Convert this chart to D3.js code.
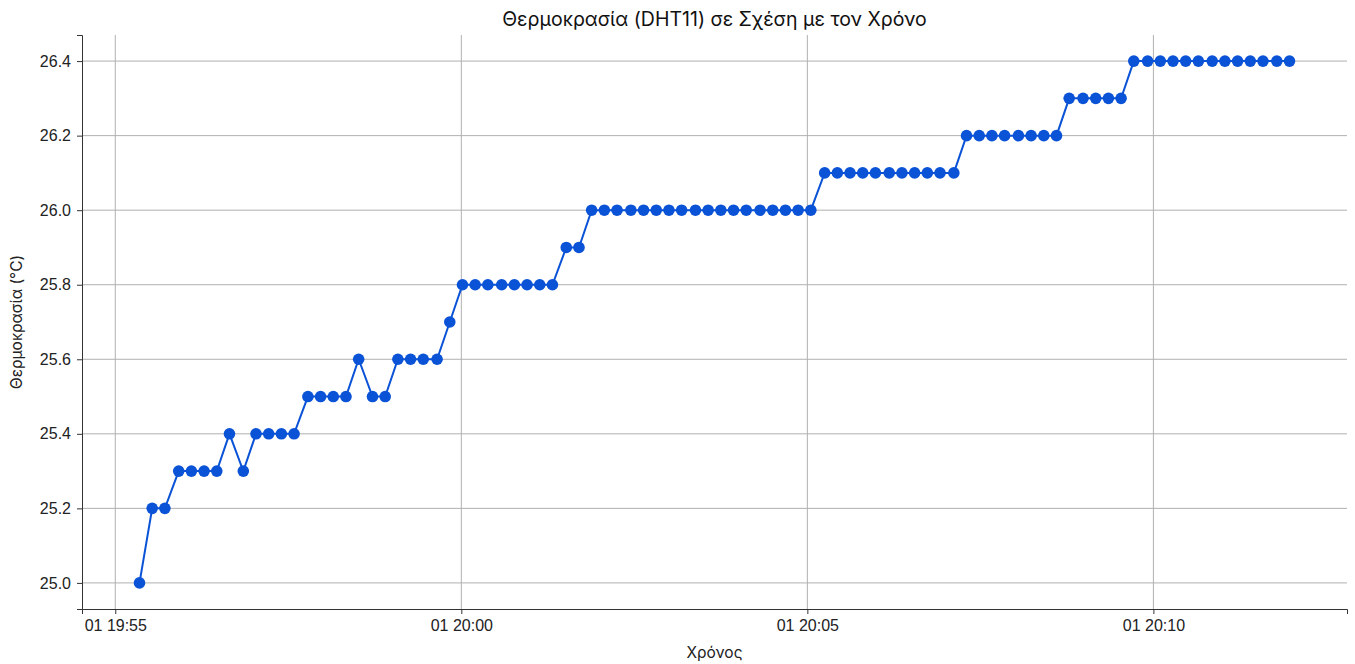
<!DOCTYPE html>
<html>
<head>
<meta charset="utf-8">
<script src="https://cdn.jsdelivr.net/npm/d3@7"></script>
<style>
  body { margin: 0; background: #fff; }
  svg { font-family: Inter, "Noto Sans", sans-serif; }
</style>
</head>
<body>
<div id="chart"></div>
<script>
// time of each reading (day 01)
const times = [
  "19:55:21", "19:55:32", "19:55:43", "19:55:55", "19:56:06", "19:56:17", "19:56:28", "19:56:39",
  "19:56:51", "19:57:02", "19:57:13", "19:57:24", "19:57:35", "19:57:47", "19:57:58", "19:58:09",
  "19:58:20", "19:58:31", "19:58:43", "19:58:54", "19:59:05", "19:59:16", "19:59:27", "19:59:39",
  "19:59:50", "20:00:01", "20:00:12", "20:00:23", "20:00:35", "20:00:46", "20:00:57", "20:01:08",
  "20:01:19", "20:01:31", "20:01:42", "20:01:53", "20:02:04", "20:02:15", "20:02:27", "20:02:38",
  "20:02:49", "20:03:00", "20:03:11", "20:03:23", "20:03:34", "20:03:45", "20:03:56", "20:04:07",
  "20:04:19", "20:04:30", "20:04:41", "20:04:52", "20:05:03", "20:05:15", "20:05:26", "20:05:37",
  "20:05:48", "20:05:59", "20:06:11", "20:06:22", "20:06:33", "20:06:44", "20:06:55", "20:07:07",
  "20:07:18", "20:07:29", "20:07:40", "20:07:51", "20:08:03", "20:08:14", "20:08:25", "20:08:36",
  "20:08:47", "20:08:59", "20:09:10", "20:09:21", "20:09:32", "20:09:43", "20:09:55", "20:10:06",
  "20:10:17", "20:10:28", "20:10:39", "20:10:51", "20:11:02", "20:11:13", "20:11:24", "20:11:35",
  "20:11:47", "20:11:58"
];

// temperature readings (°C)
const temps = [
  25.0, 25.2, 25.2, 25.3, 25.3, 25.3, 25.3, 25.4, 25.3, 25.4, 25.4, 25.4, 25.4,
  25.5, 25.5, 25.5, 25.5, 25.6, 25.5, 25.5, 25.6, 25.6, 25.6, 25.6, 25.7,
  25.8, 25.8, 25.8, 25.8, 25.8, 25.8, 25.8, 25.8, 25.9, 25.9,
  26.0, 26.0, 26.0, 26.0, 26.0, 26.0, 26.0, 26.0, 26.0, 26.0, 26.0, 26.0, 26.0, 26.0, 26.0, 26.0, 26.0, 26.0,
  26.1, 26.1, 26.1, 26.1, 26.1, 26.1, 26.1, 26.1, 26.1, 26.1, 26.1,
  26.2, 26.2, 26.2, 26.2, 26.2, 26.2, 26.2, 26.2,
  26.3, 26.3, 26.3, 26.3, 26.3,
  26.4, 26.4, 26.4, 26.4, 26.4, 26.4, 26.4, 26.4, 26.4, 26.4, 26.4, 26.4, 26.4
];

const xTicks = ["19:55:00", "20:00:00", "20:05:00", "20:10:00"];
const yTicks = [25.0, 25.2, 25.4, 25.6, 25.8, 26.0, 26.2, 26.4];

const width = 1355,
  height = 664,
  margin = { top: 35, right: 8, bottom: 55, left: 82 };

const parseTime = d3.timeParse("%H:%M:%S");
const data = times.map((t, i) => ({ t: parseTime(t), v: temps[i] }));

// matplotlib-like 5% padding on both axes
const tExt = d3.extent(data, d => d.t);
const tPad = (tExt[1] - tExt[0]) * 0.05;
const vExt = d3.extent(temps);
const vPad = (vExt[1] - vExt[0]) * 0.05;

let xScale = d3.scaleTime()
  .domain([new Date(+tExt[0] - tPad), new Date(+tExt[1] + tPad)])
  .range([margin.left, width - margin.right]);
let yScale = d3.scaleLinear()
  .domain([vExt[0] - vPad, vExt[1] + vPad])
  .range([height - margin.bottom, margin.top]);

let svg = d3.select("#chart").append("svg")
  .attr("width", width)
  .attr("height", height);

// grid
svg.append("g").selectAll("line")
  .data(yTicks).enter().append("line")
  .attr("x1", margin.left).attr("x2", width - margin.right)
  .attr("y1", d => yScale(d)).attr("y2", d => yScale(d))
  .attr("stroke", "#b0b0b0").attr("stroke-width", 1);

svg.append("g").selectAll("line")
  .data(xTicks.map(parseTime)).enter().append("line")
  .attr("x1", d => xScale(d)).attr("x2", d => xScale(d))
  .attr("y1", margin.top).attr("y2", height - margin.bottom)
  .attr("stroke", "#b0b0b0").attr("stroke-width", 1);

// axes
let xAxis = svg.append("g")
  .attr("transform", "translate(0," + (height - margin.bottom) + ")")
  .call(d3.axisBottom(xScale)
    .tickValues(xTicks.map(parseTime))
    .tickFormat(d3.timeFormat("%d %H:%M"))
    .tickSizeOuter(0).tickSize(5).tickPadding(6));

let yAxis = svg.append("g")
  .attr("transform", "translate(" + margin.left + ",0)")
  .call(d3.axisLeft(yScale)
    .tickValues(yTicks)
    .tickFormat(d3.format(".1f"))
    .tickSizeOuter(0).tickSize(5).tickPadding(6));

[xAxis, yAxis].forEach(a => {
  a.selectAll("text").attr("font-size", "16px").attr("fill", "#222");
  a.selectAll("line").attr("stroke", "#333");
  a.select(".domain").attr("stroke", "#333");
});

// line + markers
let line = d3.line()
  .x(d => xScale(d.t))
  .y(d => yScale(d.v));

svg.append("path")
  .datum(data)
  .attr("d", line)
  .attr("fill", "none")
  .attr("stroke", "#0a52d6")
  .attr("stroke-width", 2);

svg.append("g").selectAll("circle")
  .data(data).enter().append("circle")
  .attr("cx", d => xScale(d.t))
  .attr("cy", d => yScale(d.v))
  .attr("r", 5.8)
  .attr("fill", "#0a52d6");

// title and labels
const midX = (margin.left + width - margin.right) / 2;
svg.append("text")
  .attr("x", midX).attr("y", 26)
  .attr("text-anchor", "middle")
  .attr("font-size", "19.5px").attr("fill", "#111")
  .text("Θερμοκρασία (DHT11) σε Σχέση με τον Χρόνο");

svg.append("text")
  .attr("x", midX).attr("y", 658)
  .attr("text-anchor", "middle")
  .attr("font-size", "15.5px").attr("fill", "#222")
  .text("Χρόνος");

svg.append("text")
  .attr("transform", "translate(22," + ((margin.top + height - margin.bottom) / 2) + ") rotate(-90)")
  .attr("text-anchor", "middle")
  .attr("font-size", "15.5px").attr("fill", "#222")
  .text("Θερμοκρασία (°C)");
</script>
</body>
</html>
